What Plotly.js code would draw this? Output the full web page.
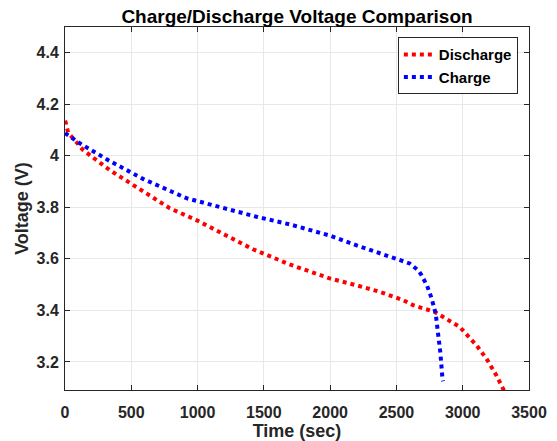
<!DOCTYPE html>
<html>
<head>
<meta charset="utf-8">
<script src="https://cdn.plot.ly/plotly-3.0.1.min.js"></script>
<style>
  html, body { margin: 0; padding: 0; background: #ffffff; }
  #chart { width: 557px; height: 441px; }
</style>
</head>
<body>
<div id="chart"></div>
<script>
// Discharge series (time in sec, voltage in V)
var dischargeTime = [0, 5, 23, 136, 337, 538, 790, 991, 1200, 1418, 1700, 1997, 2200, 2374, 2550, 2626, 2789, 2977, 3103, 3179, 3254, 3317, 3335];
var dischargeV    = [4.135, 4.13, 4.09, 4.022, 3.944, 3.877, 3.796, 3.75, 3.695, 3.637, 3.577, 3.524, 3.497, 3.472, 3.44, 3.42, 3.394, 3.336, 3.265, 3.213, 3.148, 3.083, 3.065];

// Charge series
var chargeTime = [0, 111, 324, 588, 916, 1192, 1444, 1700, 1900, 1997, 2200, 2387, 2600, 2663, 2689, 2730, 2764, 2796, 2821, 2832, 2847, 2852];
var chargeV    = [4.087, 4.048, 3.983, 3.91, 3.835, 3.796, 3.763, 3.733, 3.705, 3.69, 3.652, 3.618, 3.582, 3.556, 3.537, 3.497, 3.449, 3.388, 3.297, 3.233, 3.136, 3.125];

var xTicks = [0, 500, 1000, 1500, 2000, 2500, 3000, 3500];
var yTicks = [3.2, 3.4, 3.6, 3.8, 4, 4.2, 4.4];

var seriesNames = ['Discharge', 'Charge'];
var seriesColors = ['#ff0000', '#0000ff'];

var FONT = 'Liberation Sans, Arial, Helvetica, sans-serif';

var traces = [
  {
    x: dischargeTime, y: dischargeV, type: 'scatter', mode: 'lines',
    name: seriesNames[0],
    line: { color: seriesColors[0], width: 4, dash: 'dot' }
  },
  {
    x: chargeTime, y: chargeV, type: 'scatter', mode: 'lines',
    name: seriesNames[1],
    line: { color: seriesColors[1], width: 4, dash: 'dot' }
  }
];

var axisCommon = {
  showline: true, linecolor: '#262626', linewidth: 1,
  mirror: 'ticks', ticks: 'inside', ticklen: 5, tickwidth: 1, tickcolor: '#262626',
  showgrid: true, gridcolor: '#e8e8e8', gridwidth: 1,
  zeroline: false, automargin: false,
  tickfont: { family: FONT, size: 16, color: '#262626', weight: 'bold' }
};

var layout = {
  width: 557, height: 441,
  paper_bgcolor: '#ffffff', plot_bgcolor: '#ffffff',
  margin: { l: 65, r: 28, t: 27, b: 51 },
  showlegend: true,
  title: {
    text: '<b>Charge/Discharge Voltage Comparison</b>',
    font: { family: FONT, size: 19, color: '#000000' },
    x: 0.5, xref: 'paper', xanchor: 'center',
    y: 1 - 16 / 441, yref: 'container', yanchor: 'middle'
  },
  xaxis: Object.assign({}, axisCommon, {
    range: [0, 3500],
    tickvals: xTicks,
    ticktext: xTicks.map(String),
    ticklabelstandoff: 8,
    title: { text: '<b>Time (sec)</b>', font: { family: FONT, size: 18, color: '#262626' }, standoff: 0 }
  }),
  yaxis: Object.assign({}, axisCommon, {
    range: [3.0913, 4.4987],
    tickvals: yTicks,
    ticktext: yTicks.map(function (v) { return String(v); }),
    ticklabelstandoff: 2,
    title: { text: '<b>Voltage (V)</b>', font: { family: FONT, size: 18, color: '#262626' }, standoff: 3 }
  }),
  legend: {
    x: 0.976, xanchor: 'right', y: 0.972, yanchor: 'top',
    bgcolor: '#ffffff', bordercolor: '#262626', borderwidth: 1,
    font: { family: FONT, size: 15, color: '#000000', weight: 'bold' },
    tracegroupgap: 0, itemwidth: 30
  }
};

Plotly.newPlot('chart', traces, layout, { displayModeBar: false, staticPlot: true });
</script>
</body>
</html>
